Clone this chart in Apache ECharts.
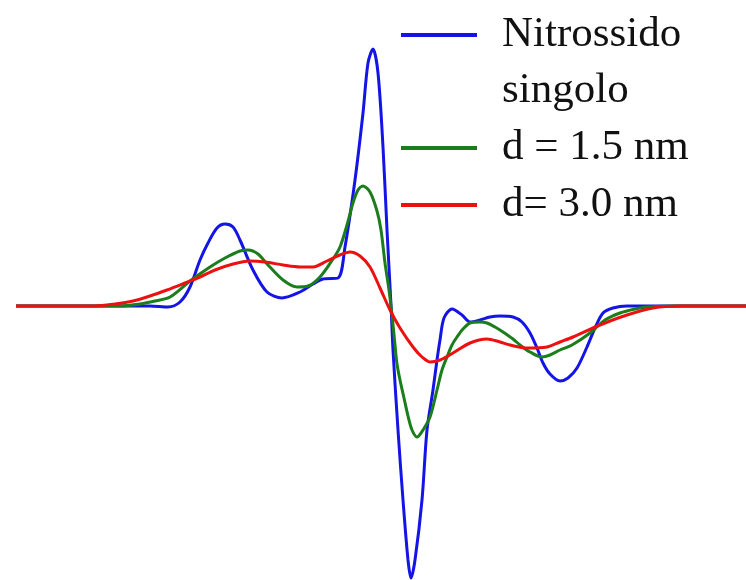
<!DOCTYPE html>
<html>
<head>
<meta charset="utf-8">
<title>Nitrossido</title>
<script src="https://cdn.jsdelivr.net/npm/echarts@6/dist/echarts.min.js"></script>
<style>
    html, body { margin: 0; padding: 0; background: #ffffff; }
    #chart { width: 746px; height: 580px; }
</style>
</head>
<body>
<div id="chart"></div>
<script>
"use strict";

// series names (legend)
var nameSingle = "Nitrossido singolo";
var nameD15 = "d = 1.5 nm";
var nameD30 = "d= 3.0 nm";

// [field, signal] pairs (signal 0 = baseline)
var singleData = [
    [16, 0], [150, 0], [168, -1], [180, 4], [190, 19], [200, 46], [208, 63],
    [217, 78], [225, 82], [233, 79], [240, 66], [253, 36], [267, 14], [282, 8],
    [300, 14], [313, 22], [323, 27], [338, 28], [345, 59], [355, 126],
    [363, 193], [368, 243], [373, 257], [378, 233], [383, 159], [387, 76],
    [391, 1], [393, -44], [398, -124], [403, -194], [408, -254], [411, -272],
    [415, -254], [422, -194], [427, -124], [433, -84], [437, -54], [440, -34],
    [444, -12], [452, -3], [462, -9], [470, -16], [480, -14], [490, -11],
    [500, -10], [513, -11], [522, -16], [530, -27], [537, -42], [543, -57],
    [550, -68], [560, -75], [568, -72], [577, -62], [587, -41], [595, -22],
    [603, -7], [613, -2], [627, 0], [650, 0], [746, 0]
];
var d15Data = [
    [16, 0], [120, 0], [140, 2], [155, 5], [170, 9], [190, 25], [210, 39],
    [225, 48], [240, 55], [248, 56], [258, 52], [268, 41], [283, 26], [297, 19],
    [308, 20], [320, 29], [333, 47], [340, 59], [347, 81], [353, 103],
    [358, 116], [363, 120], [370, 114], [377, 95], [381, 76], [385, 43],
    [389, 16], [392, -9], [395, -39], [397, -58], [400, -74], [404, -92],
    [408, -110], [412, -124], [417, -131], [423, -124], [430, -111], [437, -84],
    [442, -64], [447, -51], [452, -39], [457, -31], [463, -23], [470, -17],
    [480, -16], [487, -17], [495, -21], [503, -26], [513, -33], [520, -39],
    [530, -46], [542, -51], [550, -49], [560, -44], [572, -39], [590, -27],
    [605, -14], [620, -7], [635, -3], [647, -1], [677, 0], [746, 0]
];
var d30Data = [
    [16, 0], [95, 0], [115, 2], [133, 5], [150, 10], [167, 16], [185, 23],
    [200, 29], [215, 36], [233, 42], [250, 45], [265, 44], [283, 41],
    [300, 39], [313, 39], [327, 45], [340, 51], [350, 54], [360, 50],
    [370, 39], [380, 18], [390, -4], [400, -22], [413, -41], [422, -51],
    [430, -56], [440, -54], [453, -47], [470, -37], [487, -33], [500, -36],
    [510, -39], [527, -42], [547, -41], [560, -36], [573, -31], [600, -19],
    [627, -9], [653, -2], [680, 0], [746, 0]
];

var colors = ["#1414e6", "#1b7d1b", "#ec1010"];

var chart = echarts.init(document.getElementById("chart"), null, {renderer: "canvas"});

function makeLine(name, data, color) {
    return {
        name: name,
        type: "line",
        data: data,
        smooth: 0.3,
        showSymbol: false,
        color: color,
        lineStyle: {width: 3, color: color}
    };
}

var options = {
    animation: false,
    backgroundColor: "#ffffff",
    grid: {left: 0, right: 0, top: 0, bottom: 0},
    xAxis: {type: "value", min: 0, max: 746, show: false},
    yAxis: {type: "value", min: -274, max: 306, show: false},
    legend: {
        orient: "vertical",
        left: 401,
        top: -53,
        padding: 0,
        itemGap: -7,
        itemWidth: 76,
        itemHeight: 4,
        icon: "rect",
        selectedMode: false,
        data: [nameSingle, nameD15, nameD30],
        formatter: function (name) {
            if (name === nameSingle) {
                return " \nNitrossido\nsingolo";
            }
            return name;
        },
        textStyle: {
            fontFamily: "Liberation Serif",
            fontSize: 43,
            lineHeight: 56,
            color: "#111111",
            padding: [0, 0, 8, 20]
        }
    },
    series: [
        makeLine(nameSingle, singleData, colors[0]),
        makeLine(nameD15, d15Data, colors[1]),
        makeLine(nameD30, d30Data, colors[2])
    ]
};

chart.setOption(options);
</script>
</body>
</html>
